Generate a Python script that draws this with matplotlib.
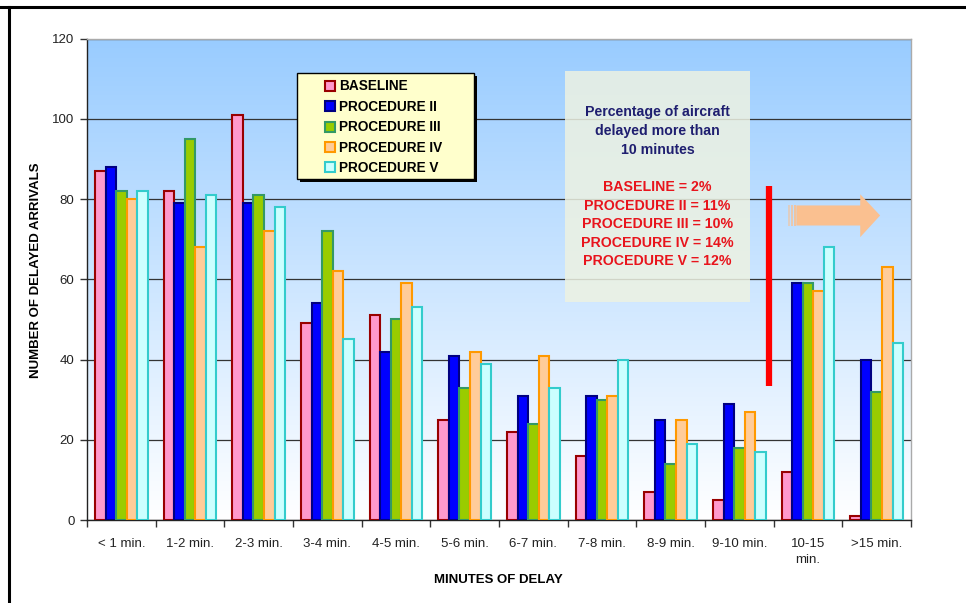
import numpy as np
import matplotlib.pyplot as plt
from matplotlib.patches import Rectangle, Polygon

plt.rcParams['font.family'] = ['Liberation Sans', 'DejaVu Sans']

# Delay bins
categories = ["< 1 min.", "1-2 min.", "2-3 min.", "3-4 min.", "4-5 min.", "5-6 min.",
              "6-7 min.", "7-8 min.", "8-9 min.", "9-10 min.", "10-15\nmin.", ">15 min."]

# Number of delayed arrivals per procedure
baseline = [87, 82, 101, 49, 51, 25, 22, 16, 7, 5, 12, 1]
proc_2 = [88, 79, 79, 54, 42, 41, 31, 31, 25, 29, 59, 40]
proc_3 = [82, 95, 81, 72, 50, 33, 24, 30, 14, 18, 59, 32]
proc_4 = [80, 68, 72, 62, 59, 42, 41, 31, 25, 27, 57, 63]
proc_5 = [82, 81, 78, 45, 53, 39, 33, 40, 19, 17, 68, 44]

series_names = ["BASELINE", "PROCEDURE II", "PROCEDURE III", "PROCEDURE IV", "PROCEDURE V"]
pct_over_10 = [2, 11, 10, 14, 12]

faces = ["#FF99CC", "#0000FF", "#99CC00", "#FFCC99", "#CCFFFF"]
edges = ["#990000", "#000080", "#339966", "#FF9900", "#33CCCC"]

fig = plt.figure(figsize=(9.66, 6.03), dpi=100)
ax = fig.add_axes([0.0901, 0.1376, 0.8530, 0.7985])

n = len(categories)
ax.set_xlim(-0.5, n - 0.5)
ax.set_ylim(0, 120)

# blue-to-white background
grad = np.linspace(0, 1, 256).reshape(-1, 1)
top = np.array([0.60, 0.80, 1.0])
img = top + (1 - top) * grad[..., None]
ax.imshow(img, extent=[-0.5, n - 0.5, 0, 120], origin='upper', aspect='auto', zorder=0)

ax.set_yticks(np.arange(0, 121, 20))
ax.yaxis.grid(True, color='#333333', linewidth=0.9, zorder=1)
ax.set_axisbelow(True)

# info box behind the bars
ax.add_patch(Rectangle((6.46, 54.3), 2.70, 57.7, facecolor='#EDF2E2', alpha=0.85,
                       edgecolor='none', zorder=1.5))

x = np.arange(n)
w = 0.154
data = [baseline, proc_2, proc_3, proc_4, proc_5]
for i, vals in enumerate(data):
    ax.bar(x + (i - 2) * w, vals, width=w, color=faces[i], edgecolor=edges[i],
           linewidth=1.5, label=series_names[i], zorder=3)

# info box text
cx = 6.46 + 2.70 / 2
head = ["Percentage of aircraft", "delayed more than", "10 minutes"]
for k, s in enumerate(head):
    ax.text(cx, 101.6 - k * 4.75, s, ha='center', va='center', fontsize=10.2,
            fontweight='bold', color='#1F1F70', zorder=4)
for k, (nm, p) in enumerate(zip(series_names, pct_over_10)):
    ax.text(cx, 82.9 - k * 4.6, f"{nm} = {p}%", ha='center', va='center', fontsize=10.2,
            fontweight='bold', color='#E8141C', zorder=4)

# red divider at 10 minutes
ax.plot([9.43, 9.43], [33.4, 83.3], color='#FF0000', linewidth=4.5, solid_capstyle='butt',
        zorder=4)

# arrow pointing right
arrow_c = '#FAC090'
ax.add_patch(Polygon([(9.83, 73.4), (10.76, 73.4), (10.76, 70.5), (11.05, 75.9),
                      (10.76, 81.2), (10.76, 78.4), (9.83, 78.4)],
                     closed=True, facecolor=arrow_c, edgecolor='none', zorder=4))
for xs, a in [(9.71, 0.55), (9.755, 0.7), (9.795, 0.85)]:
    ax.add_patch(Rectangle((xs, 73.4), 0.025, 5.0, facecolor=arrow_c, alpha=a,
                           edgecolor='none', zorder=4))

# ticks
ax.set_xticks(x)
ax.set_xticklabels(categories, fontsize=9.5, color='#222222', linespacing=1.45)
ax.set_xticks(np.arange(-0.5, n, 1), minor=True)
ax.tick_params(axis='x', which='major', length=0, pad=13)
ax.tick_params(axis='x', which='minor', length=5, width=1, color='#333333', direction='out')
ax.tick_params(axis='y', length=5, width=1, color='#333333', direction='out', pad=4,
               labelsize=9.5, labelcolor='#222222')

for s in ['left', 'bottom']:
    ax.spines[s].set_color('#222222')
    ax.spines[s].set_linewidth(1)
for s in ['top', 'right']:
    ax.spines[s].set_color('#AAAAAA')
    ax.spines[s].set_linewidth(1)

fig.text(36 / 966, 1 - 270 / 603, "NUMBER OF DELAYED ARRIVALS", rotation=90, ha='center',
         va='center', fontsize=9.5, fontweight='bold')
fig.text(498 / 966, 1 - 580 / 603, "MINUTES OF DELAY", ha='center', va='center',
         fontsize=9.5, fontweight='bold')

# legend box with a hard shadow
lx0, lx1, ly0, ly1 = 297, 474, 73, 179
def to_ax(px, py):
    return (px - 87) / 824, (520 - py) / 482
bx, by = to_ax(lx0, ly1)
bw, bh = (lx1 - lx0) / 824, (ly1 - ly0) / 482
ax.add_patch(Rectangle((bx + 3 / 824, by - 3 / 482), bw, bh, transform=ax.transAxes,
                       facecolor='#000000', edgecolor='none', zorder=5))
ax.add_patch(Rectangle((bx, by), bw, bh, transform=ax.transAxes, facecolor='#FFFFCC',
                       edgecolor='#000000', linewidth=1, zorder=5.1))
leg = ax.legend(loc='upper left', bbox_to_anchor=to_ax(325, 79), borderaxespad=0,
                prop={'weight': 'bold', 'size': 9.8}, frameon=False,
                handlelength=0.75, handleheight=0.75, handletextpad=0.25,
                labelspacing=0.47, borderpad=0)
leg.set_zorder(6)

# outer frame lines
fig.add_artist(plt.Line2D([0, 1], [0.988, 0.988], color='black', linewidth=2.2))
fig.add_artist(plt.Line2D([0.0088, 0.0088], [0, 0.988], color='black', linewidth=2.2))

fig.savefig("out.png", dpi=100)
